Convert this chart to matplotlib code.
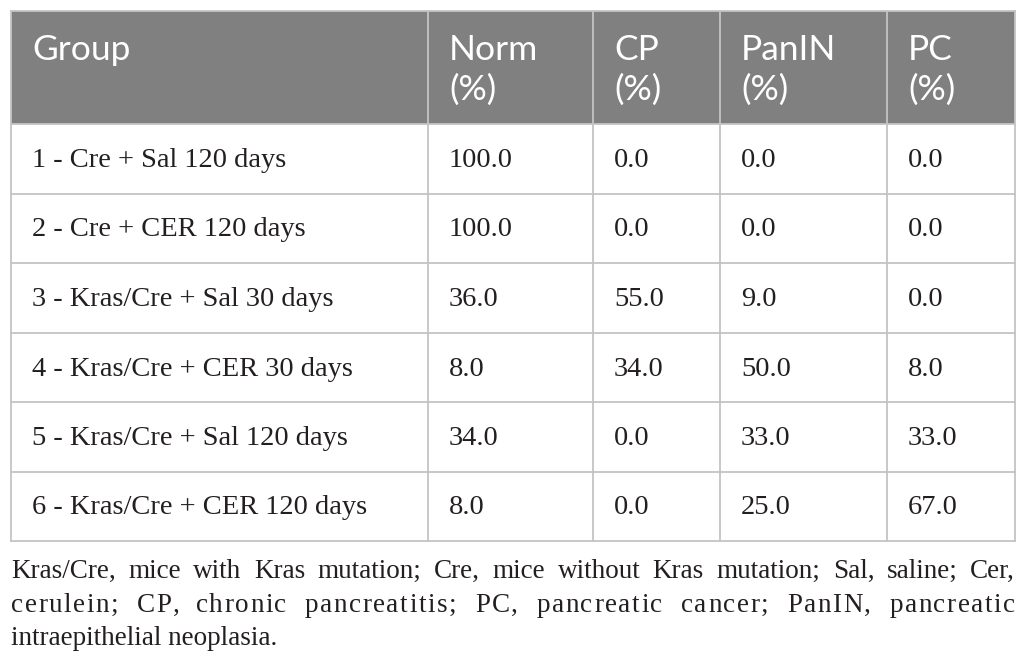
import matplotlib.pyplot as plt
from matplotlib.lines import Line2D

# table content
groups = [
    "1 - Cre + Sal 120 days",
    "2 - Cre + CER 120 days",
    "3 - Kras/Cre + Sal 30 days",
    "4 - Kras/Cre + CER 30 days",
    "5 - Kras/Cre + Sal 120 days",
    "6 - Kras/Cre + CER 120 days",
]
norm = [100.0, 100.0, 36.0, 8.0, 34.0, 8.0]
cp = [0.0, 0.0, 55.0, 34.0, 0.0, 0.0]
panin = [0.0, 0.0, 9.0, 50.0, 33.0, 25.0]
pc = [0.0, 0.0, 0.0, 8.0, 33.0, 67.0]
headers = [["Group"], ["Norm", "(%)"], ["CP", "(%)"], ["PanIN", "(%)"], ["PC", "(%)"]]

note_lines = [
    "Kras/Cre, mice with Kras mutation; Cre, mice without Kras mutation; Sal, saline; Cer,",
    "cerulein; CP, chronic pancreatitis; PC, pancreatic cancer; PanIN, pancreatic",
    "intraepithelial neoplasia.",
]

# layout in pixels (figure is 1026 x 665 at dpi 100)
W, H = 1026, 665
col_x = [11, 428, 593, 720, 887, 1015]
top, head_bot, row_h = 11, 124, 69.5
pad = 21
header_color = "#808080"
line_color = "#c4c4c4"
text_color = "#231f20"
serif = ["Liberation Serif", "DejaVu Serif"]
sans = ["Lato", "DejaVu Sans"]

fig = plt.figure(figsize=(W / 100, H / 100), dpi=100)
ax = fig.add_axes([0, 0, 1, 1])
ax.set_xlim(0, W)
ax.set_ylim(H, 0)
ax.axis("off")

n_rows = len(groups)
bottom = head_bot + n_rows * row_h

# header background
ax.add_patch(plt.Rectangle((col_x[0], top), col_x[-1] - col_x[0], head_bot - top,
                           facecolor=header_color, edgecolor="none", zorder=1))

# grid lines
lw = 1.3
for x in col_x:
    ax.add_line(Line2D([x, x], [top, bottom], color=line_color, lw=lw, zorder=2))
ax.add_line(Line2D([col_x[0], col_x[-1]], [top, top], color=line_color, lw=lw, zorder=2))
for i in range(n_rows + 1):
    y = head_bot + i * row_h
    ax.add_line(Line2D([col_x[0], col_x[-1]], [y, y], color=line_color, lw=lw, zorder=2))

# header text
for j, lines in enumerate(headers):
    for k, s in enumerate(lines):
        ax.text(col_x[j] + pad, 60 + k * 40, s, color="white", fontsize=25.5,
                family=sans, va="baseline", ha="left", zorder=3)

# body rows
for i in range(n_rows):
    yb = head_bot + i * row_h + 43
    cells = [groups[i], f"{norm[i]:.1f}", f"{cp[i]:.1f}", f"{panin[i]:.1f}", f"{pc[i]:.1f}"]
    for j, s in enumerate(cells):
        ax.text(col_x[j] + pad, yb, s, color=text_color, fontsize=20.5,
                family=serif, va="baseline", ha="left", zorder=3)

# justified footnote
fig.canvas.draw()
renderer = fig.canvas.get_renderer()
note_size = 19.5
note_base = [578, 612, 645]
left, right = col_x[0], col_x[-1]


def text_width(s):
    t = ax.text(0, 0, s, fontsize=note_size, family=serif)
    w = t.get_window_extent(renderer).width
    t.remove()
    return w


for n, line in enumerate(note_lines):
    words = line.split(" ")
    if n == len(note_lines) - 1:
        ax.text(left, note_base[n], line, fontsize=note_size, family=serif,
                color=text_color, va="baseline", ha="left")
        continue
    widths = [text_width(w) for w in words]
    space = text_width("a a") - text_width("aa")
    total = sum(widths) + space * (len(words) - 1)
    extra = right - left - total
    # second line is letter spaced as well as word spaced
    track = 0.5 if n == 1 else 0.0
    n_chars = sum(len(w) - 1 for w in words)
    per_char = extra * track / max(n_chars, 1)
    per_gap = extra * (1 - track) / (len(words) - 1)
    x = left
    for w, wd in zip(words, widths):
        if per_char > 0:
            cx = x
            for c in w:
                ax.text(cx, note_base[n], c, fontsize=note_size, family=serif,
                        color=text_color, va="baseline", ha="left")
                cx += text_width(c) + per_char
            x += wd + per_char * (len(w) - 1) + space + per_gap
        else:
            ax.text(x, note_base[n], w, fontsize=note_size, family=serif,
                    color=text_color, va="baseline", ha="left")
            x += wd + space + per_gap

fig.savefig("out.png", dpi=100)
